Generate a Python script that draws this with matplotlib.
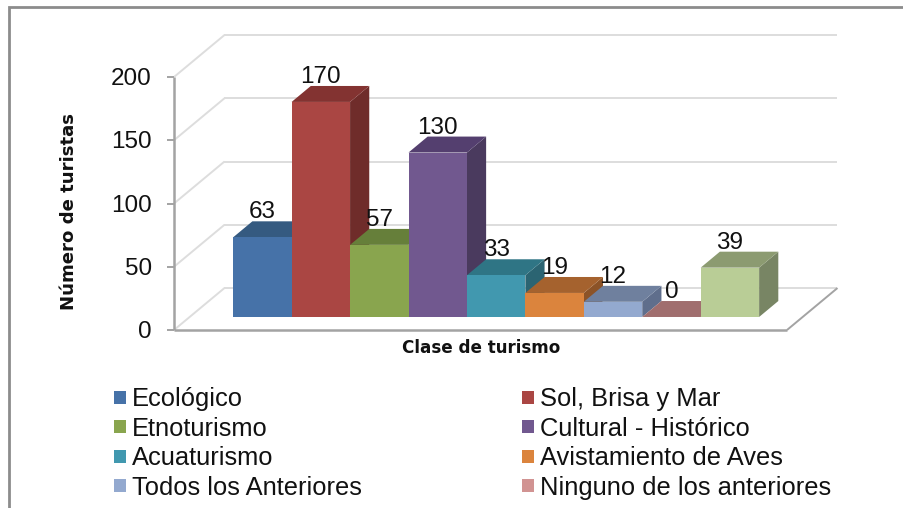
import matplotlib
matplotlib.use("Agg")
import matplotlib.pyplot as plt
from matplotlib.patches import Rectangle

W, H = 904, 508

# Datos
categorias = ["Ecológico", "Sol, Brisa y Mar", "Etnoturismo", "Cultural - Histórico",
              "Acuaturismo", "Avistamiento de Aves", "Todos los Anteriores",
              "Ninguno de los anteriores", ""]
valores = [63, 170, 57, 130, 33, 19, 12, 0, 39]
yticks = [0, 50, 100, 150, 200]

# frente, tapa, lateral
col_frente = ["#4672A8", "#AA4643", "#89A54E", "#71588F", "#4198AF", "#DB843D", "#93A9CF", "#D19392", "#B9CD96"]
col_tapa = ["#355A80", "#833331", "#667F3A", "#543F6F", "#2F7585", "#A5622E", "#6F809E", "#A06E6E", "#8C9B71"]
col_lado = ["#2E4D6E", "#6F2C2A", "#566C31", "#4A3A5E", "#2B6472", "#8C5327", "#5F6E8C", "#8A5E5E", "#788564"]

plt.rcParams["font.family"] = ["Liberation Sans", "DejaVu Sans"]

fig = plt.figure(figsize=(W / 100, H / 100), dpi=100, facecolor="white")


def px(x, y):
    """pixel de la imagen -> fraccion de figura"""
    return x / W, 1 - y / H


# el plano frontal del grafico ocupa x 174-787, y 77-330
x0, y0 = px(174, 330)
x1, y1 = px(787, 77)
ax = fig.add_axes([x0, y0, x1 - x0, y1 - y0])
ax.set_xlim(-0.745, 9.745)
ax.set_ylim(0, 200)
ax.axis("off")

# proyeccion oblicua: prof 0 = frente, prof 1 = fondo
DX = 50.5 / (613 / 10.49)
DY = 42 / (253 / 200)


def proy(x, y, prof):
    return x + prof * DX, y + prof * DY


def poli(puntos, color, z):
    xs = [p[0] for p in puntos]
    ys = [p[1] for p in puntos]
    ax.fill(xs, ys, color=color, lw=0, clip_on=False, zorder=z)


def linea(a, b, color, lw, z=1):
    ax.plot([a[0], b[0]], [a[1], b[1]], color=color, lw=lw, clip_on=False,
            solid_capstyle="butt", zorder=z)


xa, xb = ax.get_xlim()
GRIS_G = "#DDDDDD"
GRIS_E = "#A3A3A3"

# rejilla en las paredes
for t in yticks:
    linea(proy(xa, t, 0), proy(xa, t, 1), GRIS_G, 1.4)
    linea(proy(xa, t, 1), proy(xb, t, 1), GRIS_G, 1.4)

# suelo
linea(proy(xb, 0, 0), proy(xb, 0, 1), GRIS_E, 1.4)
linea(proy(xa, 0, 0), proy(xb, 0, 0), GRIS_E, 1.8, z=2)

# eje y
linea((xa, 0), (xa, 200), GRIS_E, 1.8, z=2)
tick_len = 7 / (613 / 10.49)
for t in yticks:
    linea((xa - tick_len, t), (xa, t), GRIS_E, 1.4, z=2)
    ax.annotate(str(t), (xa, t), xytext=(-16, -1.5), textcoords="offset points",
                ha="right", va="center", fontsize=17.5, color="#111111",
                annotation_clip=False)

# barras
P1, P2 = 0.31, 0.69
for i, v in enumerate(valores):
    z = 3 + i
    a, b = i, i + 1
    poli([proy(b, 0, P1), proy(b, 0, P2), proy(b, v, P2), proy(b, v, P1)], col_lado[i], z)
    poli([proy(a, v, P1), proy(b, v, P1), proy(b, v, P2), proy(a, v, P2)], col_tapa[i], z)
    poli([proy(a, 0, P1), proy(b, 0, P1), proy(b, v, P1), proy(a, v, P1)], col_frente[i], z)

for i, v in enumerate(valores):
    xt, yt = proy(i + 0.5, v, P2)
    xt -= (P2 - P1) * DX
    ax.annotate(str(v), (xt, yt), xytext=(0, -1.5), textcoords="offset points",
                ha="center", va="bottom", fontsize=17.5, color="#111111",
                annotation_clip=False, zorder=30)

# titulos de ejes
tx, ty = px(481, 348)
fig.text(tx, ty, "Clase de turismo", ha="center", va="center", fontsize=12.1,
         fontweight="bold", family="DejaVu Sans", color="#111111")
tx, ty = px(69, 212)
fig.text(tx, ty, "Número de turistas", ha="center", va="center", rotation=90,
         fontsize=13.1, fontweight="bold", family="DejaVu Sans", color="#111111")

# leyenda (8 entradas, por filas)
for i in range(8):
    col, fila = i % 2, i // 2
    xc = [114, 522][col]
    yc = 397 + fila * 29.6
    xr, yr = px(xc, yc + 6.5)
    fig.add_artist(Rectangle((xr, yr), 12.5 / W, 13 / H, transform=fig.transFigure,
                             facecolor=col_frente[i], edgecolor="none"))
    xt, yt = px(xc + 18, yc + 2)
    fig.text(xt, yt, categorias[i], ha="left", va="center", fontsize=18.4, color="#111111")

# marco gris
xl, yt = px(9, 7)
xr, _ = px(904, 7)
_, yb = px(9, 508)
fig.add_artist(plt.Line2D([xl, xl, xr], [yb, yt, yt], transform=fig.transFigure,
                          color="#8C8C8C", lw=2, solid_joinstyle="miter"))

fig.savefig("out.png", dpi=100, facecolor="white")
